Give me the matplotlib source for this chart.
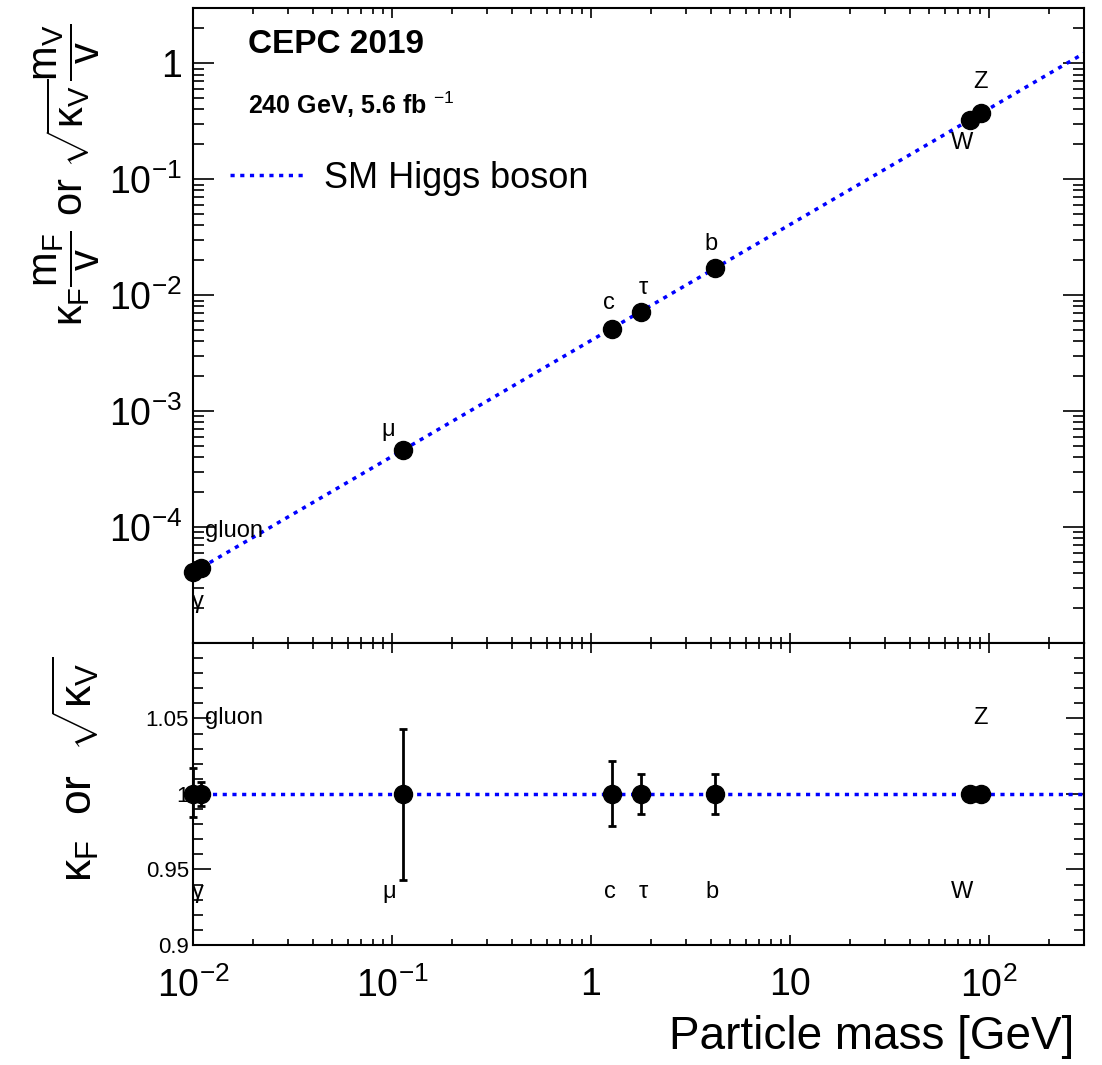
import numpy as np
import matplotlib
matplotlib.use('Agg')
import matplotlib.pyplot as plt
from matplotlib.ticker import FixedLocator, NullFormatter, FixedFormatter

plt.rcParams['font.family'] = ['Liberation Sans', 'DejaVu Sans']
plt.rcParams['mathtext.fontset'] = 'custom'
plt.rcParams['mathtext.rm'] = 'Liberation Sans'
plt.rcParams['mathtext.it'] = 'Liberation Sans'
plt.rcParams['mathtext.bf'] = 'Liberation Sans:bold'

# particles and where they sit on the mass axis
particles = ['γ', 'gluon', 'μ', 'c', 'τ', 'b', 'W', 'Z']
mass = [0.0100, 0.0110, 0.113, 1.27, 1.777, 4.18, 80.4, 91.2]

# upper panel: reduced couplings
reduced = [4.07e-5, 4.47e-5, 4.59e-4, 5.16e-3, 7.22e-3, 1.70e-2, 0.327, 0.371]

# lower panel: kappa values with errors
kappa = [1.0, 1.0, 1.0, 1.0, 1.0, 1.0, 1.0, 1.0]
err_up = [0.017, 0.008, 0.043, 0.022, 0.013, 0.013, 0.003, 0.002]
err_dn = [0.015, 0.008, 0.057, 0.021, 0.013, 0.013, 0.003, 0.002]

# SM expectation line
sm_x = [0.01, 300]
sm_top = [4.07e-5, 1.22]
sm_bot = [1.0, 1.0]

# text label positions
lab_top_x = [0.0106, 0.0115, 0.0953, 1.23, 1.84, 4.0, 73, 91]
lab_top_y = [2.27e-5, 9.24e-5, 6.93e-4, 8.53e-3, 1.15e-2, 2.74e-2, 0.206, 0.687]
lab_bot_x = [0.0106, 0.0115, 0.0965, 1.24, 1.83, 4.04, 73, 91]
lab_bot_y = [0.935, 1.05, 0.935, 0.935, 0.935, 0.935, 0.935, 1.05]

fig = plt.figure(figsize=(11.02, 10.65), dpi=100)
ax1 = fig.add_axes([0.1751, 0.3962, 0.8086, 0.5963])
ax2 = fig.add_axes([0.1751, 0.1127, 0.8086, 0.2836], sharex=ax1)

for ax in (ax1, ax2):
    ax.set_xscale('log')
    ax.set_xlim(0.01, 300)
    for s in ax.spines.values():
        s.set_linewidth(1.5)
    ax.tick_params(which='both', direction='in', top=True, right=True, width=1.2)

# upper panel
ax1.set_yscale('log')
ax1.set_ylim(1e-5, 3)
ax1.plot(sm_x, sm_top, ls=(0, (1.2, 1.6)), color='blue', lw=2.5, label='SM Higgs boson')
ax1.plot(mass, reduced, 'o', color='black', ms=13, clip_on=False, zorder=5)
for name, x, y in zip(particles, lab_top_x, lab_top_y):
    ha = 'left' if name == 'gluon' else 'center'
    ax1.text(x, y, name, fontsize=17, ha=ha, va='center')

ax1.yaxis.set_major_locator(FixedLocator([1e-5, 1e-4, 1e-3, 1e-2, 1e-1, 1]))
ax1.yaxis.set_major_formatter(FixedFormatter(['', r'$10^{-4}$', r'$10^{-3}$', r'$10^{-2}$', r'$10^{-1}$', '1']))
ax1.yaxis.set_minor_locator(FixedLocator([m * 10.0**e for e in range(-5, 1) for m in range(2, 10)]))
ax1.yaxis.set_minor_formatter(NullFormatter())
ax1.tick_params(axis='y', which='major', length=15, labelsize=27, pad=8)
ax1.tick_params(axis='y', which='minor', length=8)
ax1.tick_params(axis='x', which='major', length=7, labelbottom=False)
ax1.tick_params(axis='x', which='minor', length=4)

ax1.text(0.062, 0.942, 'CEPC 2019', fontsize=24, fontweight='bold', va='center',
         transform=ax1.transAxes)
ax1.text(0.062, 0.847, r'240 GeV, 5.6 fb $^{-1}$', fontsize=18, fontweight='bold', va='center',
         transform=ax1.transAxes)
ax1.legend(loc='center left', bbox_to_anchor=(0.042, 0.732), frameon=False, fontsize=26,
           handlelength=2.0, handletextpad=0.6, borderaxespad=0, borderpad=0)

fig.text(0.061, 0.836, r'$\kappa_F\dfrac{m_F}{v}$ or $\sqrt{\kappa_V}\dfrac{m_V}{v}$',
         rotation=90, fontsize=30, ha='center', va='center')

# lower panel
ax2.set_ylim(0.9, 1.1)
ax2.plot(sm_x, sm_bot, ls=(0, (1.2, 1.6)), color='blue', lw=2.5)
ax2.errorbar(mass, kappa, yerr=[err_dn, err_up], fmt='o', color='black', ms=13,
             elinewidth=2, capsize=3, capthick=2, clip_on=False, zorder=5)
for name, x, y in zip(particles, lab_bot_x, lab_bot_y):
    ha = 'left' if name == 'gluon' else 'center'
    ax2.text(x, y, name, fontsize=17, ha=ha, va='center')

ax2.yaxis.set_major_locator(FixedLocator([0.9, 0.95, 1.0, 1.05, 1.1]))
ax2.yaxis.set_major_formatter(FixedFormatter(['0.9', '0.95', '1', '1.05', '']))
ax2.yaxis.set_minor_locator(FixedLocator(np.arange(0.9, 1.1001, 0.01)))
ax2.tick_params(axis='y', which='major', length=13, labelsize=16, pad=3)
ax2.tick_params(axis='y', which='minor', length=7)
ax2.xaxis.set_major_locator(FixedLocator([0.01, 0.1, 1, 10, 100]))
ax2.xaxis.set_major_formatter(FixedFormatter([r'$10^{-2}$', r'$10^{-1}$', '1', '10', r'$10^{2}$']))
ax2.xaxis.set_minor_formatter(NullFormatter())
ax2.tick_params(axis='x', which='major', length=7, labelsize=27, pad=16)
ax2.tick_params(axis='x', which='minor', length=4)

fig.text(0.069, 0.278, r'$\kappa_F$  or  $\sqrt{\kappa_V}$', rotation=90, fontsize=32,
         ha='center', va='center')
fig.text(0.975, 0.006, 'Particle mass [GeV]', fontsize=33, ha='right', va='bottom')

fig.savefig('out.png', dpi=100)
